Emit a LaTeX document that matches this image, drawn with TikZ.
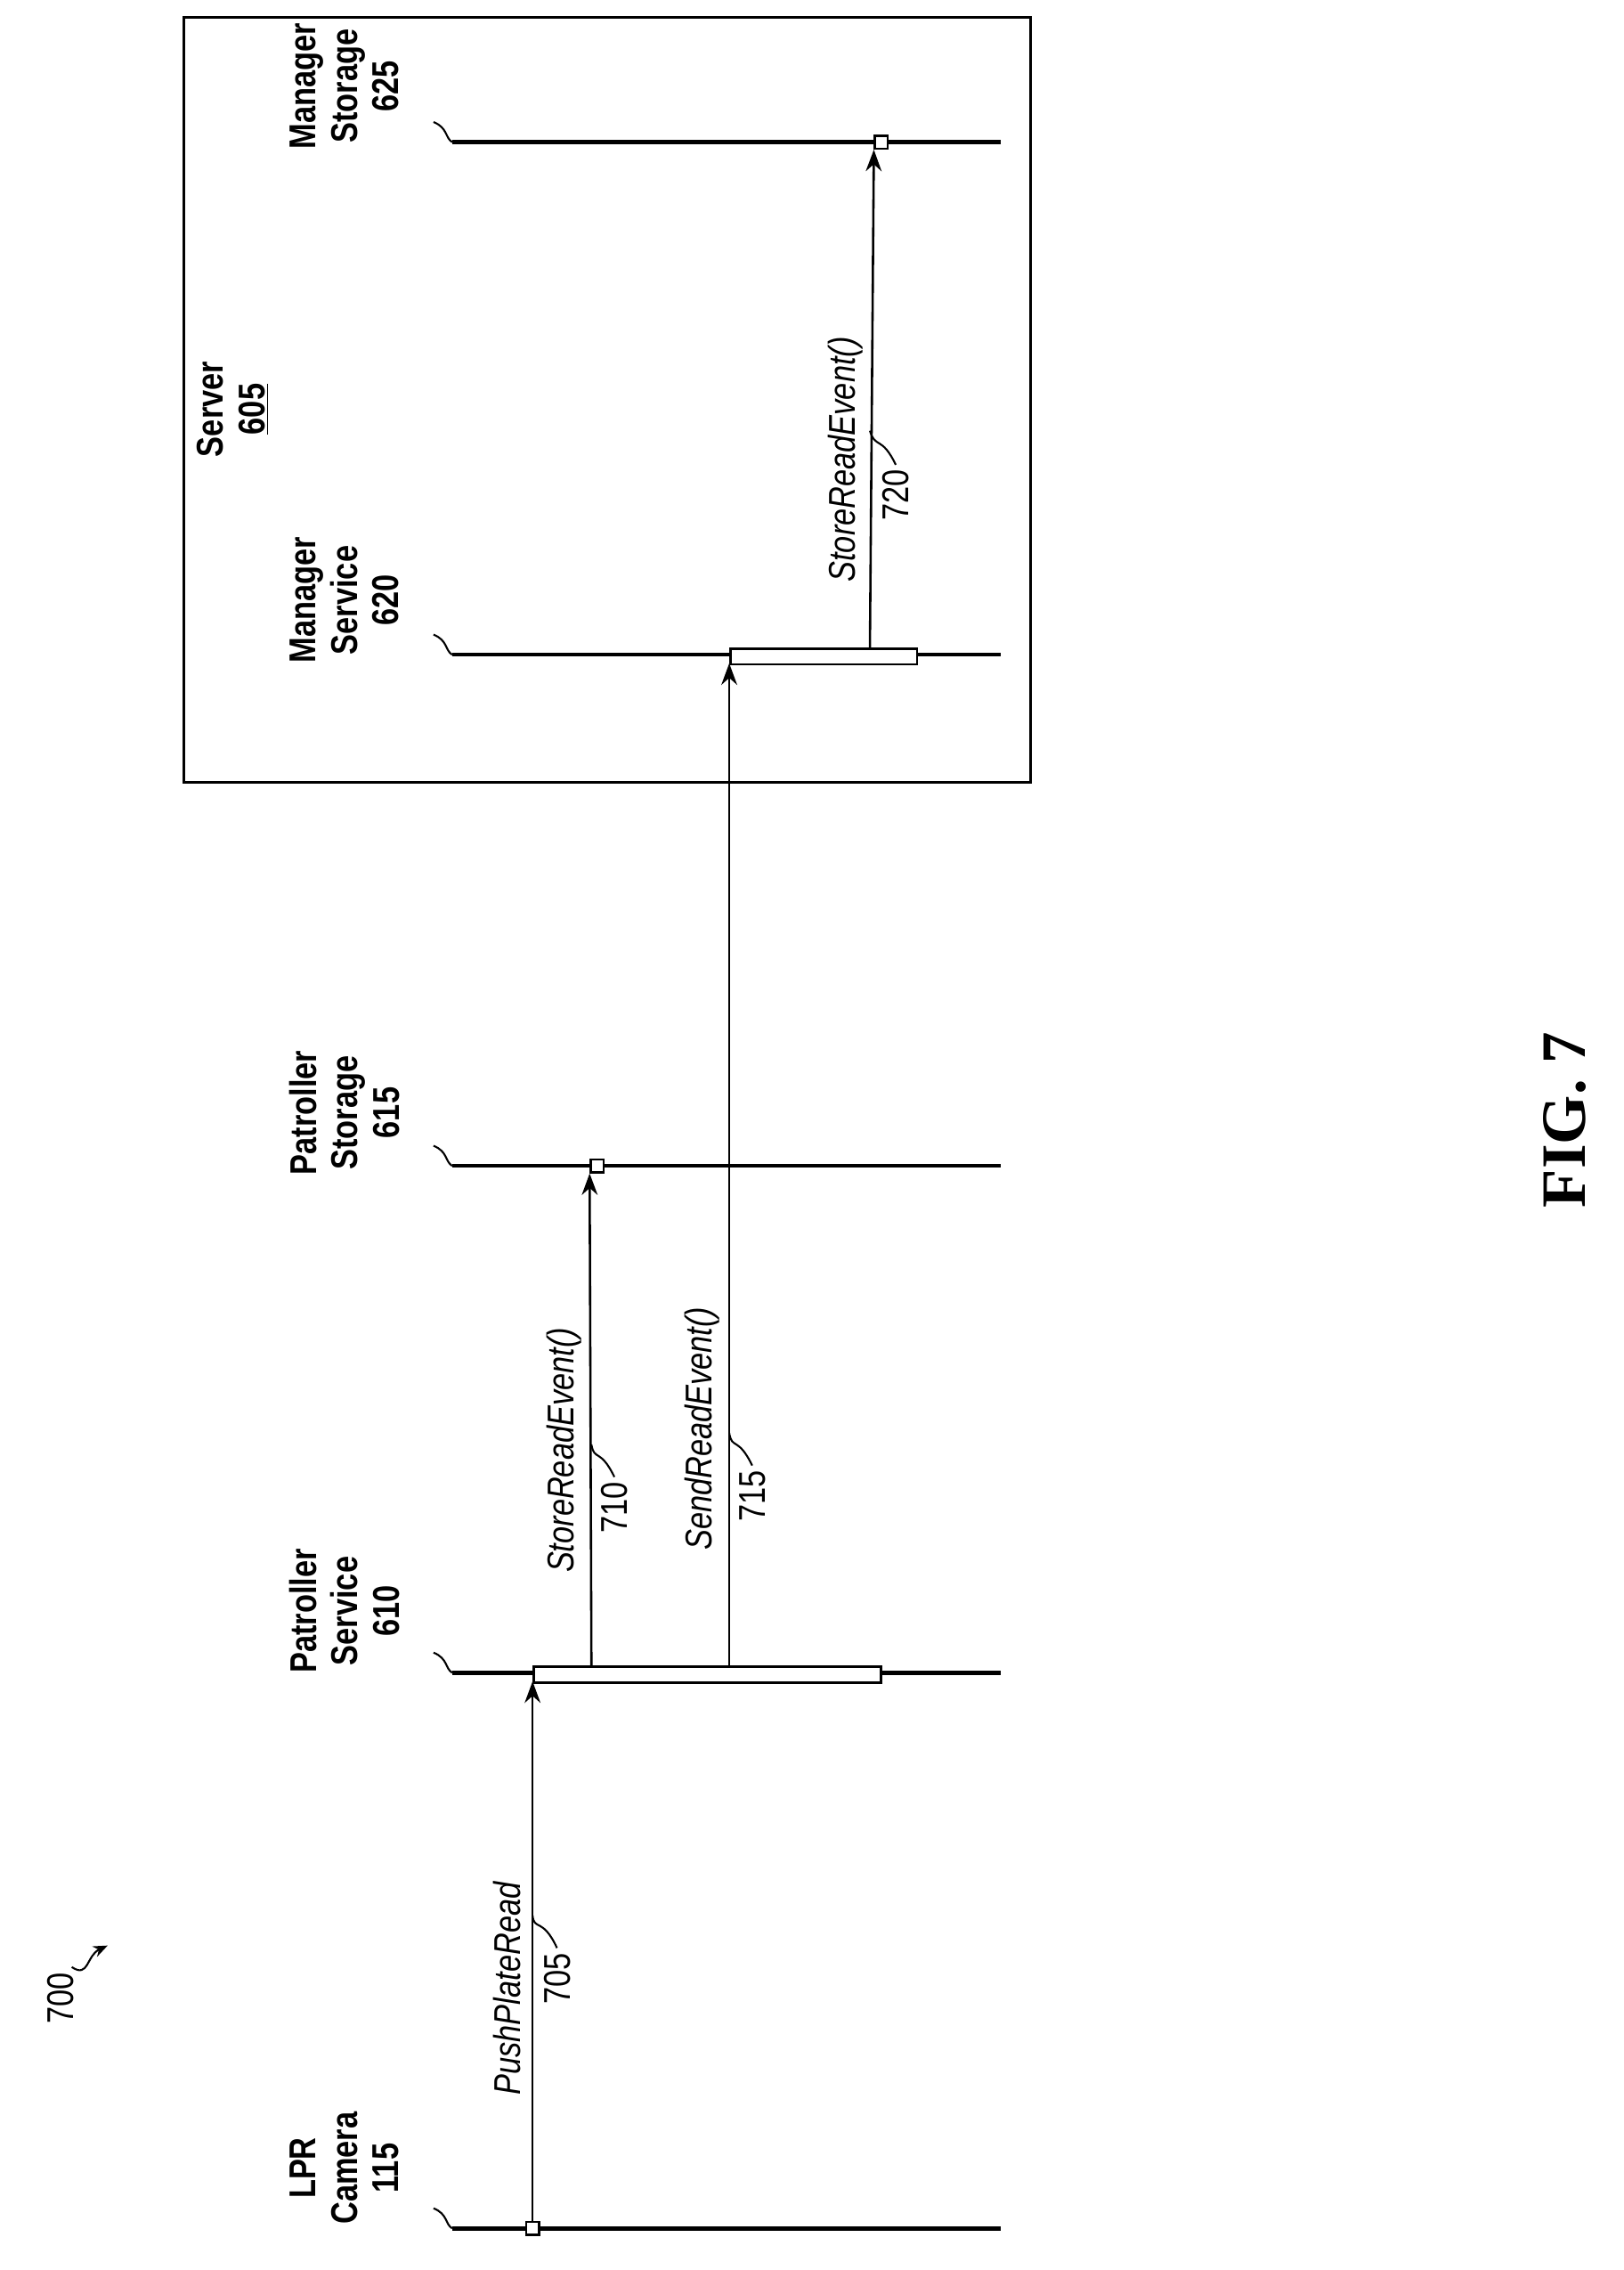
\documentclass[tikz,border=0pt]{standalone}
\usepackage{fontspec}
\setsansfont{Liberation Sans}[FakeStretch=0.82]
\setmainfont{Liberation Serif}
\usetikzlibrary{positioning}
\usetikzlibrary{arrows.meta}

\tikzset{
  life/.style={line width=2.8pt},
  msg/.style={line width=1.6pt,-{Stealth[length=15pt,width=11pt]}},
  actor/.style={rotate=90,align=center,font=\sffamily\bfseries\fontsize{26}{29}\selectfont},
  call/.style={rotate=90,font=\sffamily\itshape\fontsize{26}{29}\selectfont},
  refno/.style={rotate=90,font=\sffamily\fontsize{26}{29}\selectfont},
  act/.style={draw,line width=1.6pt,fill=white,inner sep=0pt},
  dot/.style={draw,line width=1.5pt,fill=white,minimum size=9pt,inner sep=0pt},
  lead/.style={line width=1.3pt}
}

\begin{document}
\begin{tikzpicture}[x=1pt,y=-1pt]
\useasboundingbox (0,0) rectangle (1131,1581);

% lifelines
\foreach \n/\y in {cam/1552,psvc/1165,psto/812,msvc/456,msto/99}
{
  \coordinate (\n a) at (315,\y);
  \coordinate (\n b) at (697,\y);
  \draw[life] (\n a) -- (\n b);
}

% server box
\draw[line width=1.9pt] (128,12) rectangle (718,545);
\node[actor] (srv) at (162,285) {Server\\\underline{605}};

% actor labels
\node[actor] (camlbl)  at (240,1510) {LPR\\Camera\\115};
\node[actor] (psvclbl) at (240,1122) {Patroller\\Service\\610};
\node[actor] (pstolbl) at (240,775)  {Patroller\\Storage\\615};
\node[actor] (msvclbl) at (240,418)  {Manager\\Service\\620};
\node[actor] (mstolbl) at (240,60)   {Manager\\Storage\\625};
\foreach \n/\y in {cam/1552,psvc/1165,psto/812,msvc/456,msto/99}
  \draw[lead] (\n a) .. controls (310,\y-3) and (312,\y-10) .. (302,\y-14);

% activations
\node[act,minimum width=242pt,minimum height=11pt,anchor=north west] (psvcact) at (371,1160) {};
\node[act,minimum width=130pt,minimum height=11pt,anchor=north west] (msvcact) at (508,451) {};

% messages
\node[dot] (d705) at (371,1552) {};
\coordinate (e705) at (371,1171);
\draw[msg] (d705) -- (e705);
\coordinate (s710) at (412,1160);
\node[dot] (d710) at (416,812) {};
\draw[msg] (s710) -- (d710.south west);
\coordinate (s715) at (508,1160);
\coordinate (e715) at (508,462);
\draw[msg] (s715) -- (e715);
\coordinate (s720) at (606,451);
\node[dot] (d720) at (614,99) {};
\draw[msg] (s720) -- (d720.south west);

% message labels
\node[call] (c705) at (353,1385) {PushPlateRead};
\node[call] (c710) at (393,1010) {StoreReadEvent()};
\node[call] (c715) at (489,995)  {SendReadEvent()};
\node[call] (c720) at (589,320)  {StoreReadEvent()};
\node[refno] (r705) at (388,1378) {705};
\node[refno] (r710) at (428,1050) {710};
\node[refno] (r715) at (524,1042) {715};
\node[refno] (r720) at (624,345)  {720};
\draw[lead] (r705.east) .. controls (378,1335) and (372,1345) .. (371,1334);
\draw[lead] (r710.east) .. controls (418,1008) and (414,1018) .. (412,1006);
\draw[lead] (r715.east) .. controls (514,1000) and (510,1010) .. (508,998);
\draw[lead] (r720.east) .. controls (614,303) and (610,313) .. (606,300);

% figure number
\node[refno] (n700) at (42,1392) {700};
\draw[lead,-{Stealth[length=10pt,width=8pt]}] (50,1370) .. controls (62,1378) and (60,1362) .. (75,1355);
\node[rotate=90,font=\rmfamily\bfseries\fontsize{44}{50}\selectfont] (fig) at (1090,780) {FIG. 7};
\end{tikzpicture}
\end{document}
